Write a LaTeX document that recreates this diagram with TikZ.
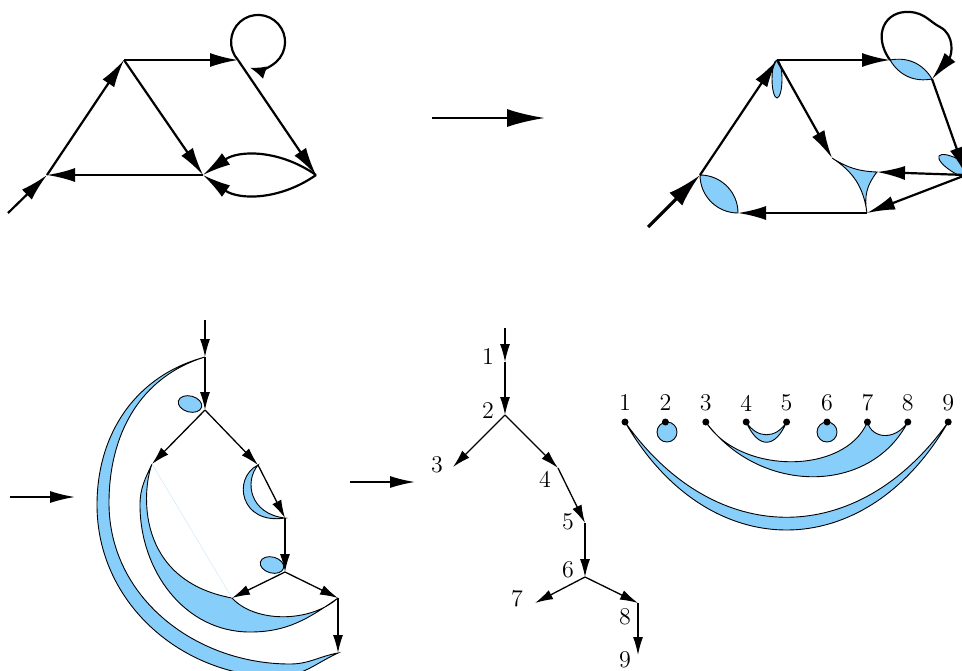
\documentclass[tikz,border=0pt]{standalone}
\usepackage{tikz}
\usetikzlibrary{arrows.meta}
\definecolor{skyblue}{RGB}{135,206,250}

\begin{document}
\begin{tikzpicture}[x=0.5pt, y=0.5pt,
    big/.style={line width=1.1pt, -{Latex[length=14pt, width=7pt]}},
    looparr/.style={line width=1.1pt, -{Latex[length=8pt, width=6.5pt]}},
    entry/.style={line width=1.6pt, -{Latex[length=17pt, width=9pt]}},
    huge/.style={line width=1.2pt, -{Latex[length=19pt, width=9pt]}},
    mid/.style={line width=0.8pt, -{Latex[length=12.5pt, width=6pt]}},
    small/.style={line width=0.65pt, -{Latex[length=9pt, width=5pt]}},
    blob/.style={fill=skyblue, draw=black, line width=0.45pt},
    num/.style={font=\large, inner sep=1pt}]
    \useasboundingbox (0,0) rectangle (962,-670);
    \clip (0,0) rectangle (962,-670);

    % Draw nodes (graph, top left)
    \coordinate (a0) at (8,-213);
    \coordinate (a) at (47,-175);
    \coordinate (b) at (124,-60);
    \coordinate (c) at (238,-60);
    \coordinate (d) at (203,-175);
    \coordinate (e) at (316,-175);

    % Draw connections
    \draw[big] (a0) -- (a);
    \draw[big] (a) -- (b);
    \draw[big] (b) -- (c);
    \draw[big] (b) -- (d);
    \draw[big] (c) -- (e);
    \draw[big] (e) to[bend right=35] (d);
    \draw[big] (e) to[bend left=35] (d);
    \draw[big] (d) -- (a);
    \draw[looparr] (c) arc[start angle=222, end angle=-108, radius=27];

    % Arrow between the two graphs
    \coordinate (m1) at (432,-118);
    \coordinate (m2) at (545,-118);
    \draw[huge] (m1) -- (m2);

    % Draw nodes (graph, top right)
    \coordinate (p0) at (648,-227);
    \coordinate (pa) at (700,-175);
    \coordinate (pa2) at (738,-213);
    \coordinate (pb) at (777,-60);
    \coordinate (pc) at (890,-60);
    \coordinate (pc2) at (932,-79);
    \coordinate (pe) at (966,-175);
    \coordinate (pd1) at (832,-158);
    \coordinate (pd2) at (877,-172);
    \coordinate (pd3) at (867,-213);

    \filldraw[blob] (pa) to[bend left=45] (pa2) to[bend left=45] (pa) -- cycle;
    \filldraw[blob] (777,-79) ellipse[x radius=5, y radius=19];
    \filldraw[blob] (pc) to[bend left=35] (pc2) to[bend left=35] (pc) -- cycle;
    \filldraw[blob, rotate around={-30:(958,-167)}] (958,-167) ellipse[x radius=22, y radius=7];
    \filldraw[blob] (pd1) to[bend right=15] (pd2) to[bend right=25] (pd3) to[bend right=25] (pd1) -- cycle;

    % Draw connections
    \draw[entry] (p0) -- (pa);
    \draw[big] (pa) -- (pb);
    \draw[big] (pb) -- (pc);
    \draw[big] (pb) -- (pd1);
    \draw[big] (pc) .. controls (872,-35) and (885,-10) .. (910,-12)
        .. controls (925,-13) and (930,-22) .. (940,-27)
        .. controls (955,-35) and (952,-55) .. (pc2);
    \draw[big] (pc2) -- (pe);
    \draw[big] (pe) -- (pd2);
    \draw[big] (pe) -- (pd3);
    \draw[big] (pd3) -- (pa2);

    % Arrows on the left and in the middle (bottom row)
    \coordinate (h1) at (10,-497);
    \coordinate (h2) at (75,-497);
    \coordinate (h3) at (350,-482);
    \coordinate (h4) at (415,-482);
    \draw[mid] (h1) -- (h2);
    \draw[mid] (h3) -- (h4);

    % Draw nodes (crescents, bottom left)
    \coordinate (q0) at (205,-320);
    \coordinate (q1) at (205,-357);
    \coordinate (q2) at (205,-410);
    \coordinate (q3) at (152,-464);
    \coordinate (q4) at (258,-465);
    \coordinate (q5) at (285,-518);
    \coordinate (q6) at (285,-572);
    \coordinate (q7) at (232,-598);
    \coordinate (q8) at (338,-598);
    \coordinate (q9) at (338,-653);

    \filldraw[blob] (q1) to[out=195,in=90] (97,-505) to[out=-90,in=180] (280,-677)
        to[out=5,in=205] (q9) to[out=190,in=0] (290,-664)
        to[out=180,in=-90] (109,-503) to[out=90,in=197] (q1) -- cycle;
    \filldraw[blob] (q3) to[out=245,in=90] (140,-505) to[out=-90,in=180] (250,-632)
        to[out=0,in=215] (q8) .. controls (310,-623) and (255,-623) .. (q7)
        .. controls (135,-580) and (142,-490) .. (q3) -- cycle;
    \draw[skyblue!50, line width=0.2pt] (q3) -- (q7);
    \filldraw[blob] (q4) .. controls (232,-478) and (240,-525) .. (q5)
        .. controls (250,-514) and (244,-482) .. (q4) -- cycle;
    \filldraw[blob, rotate around={-15:(190,-404)}] (190,-404) ellipse[x radius=12, y radius=8];
    \filldraw[blob, rotate around={-15:(272,-565)}] (272,-565) ellipse[x radius=12, y radius=8];

    % Draw connections
    \draw[small] (q0) -- (q1);
    \draw[small] (q1) -- (q2);
    \draw[small] (q2) -- (q3);
    \draw[small] (q2) -- (q4);
    \draw[small] (q4) -- (q5);
    \draw[small] (q5) -- (q6);
    \draw[small] (q6) -- (q7);
    \draw[small] (q6) -- (q8);
    \draw[small] (q8) -- (q9);

    % Draw nodes (tree)
    \coordinate (t0) at (505,-328);
    \coordinate (t1) at (505,-362);
    \coordinate (t2) at (505,-415);
    \coordinate (t3) at (453,-467);
    \coordinate (t4) at (558,-468);
    \coordinate (t5) at (585,-523);
    \coordinate (t6) at (585,-577);
    \coordinate (t7) at (535,-603);
    \coordinate (t8) at (638,-603);
    \coordinate (t9) at (638,-655);

    \node[num] (l1) at (488,-357) {1};
    \node[num] (l2) at (488,-411) {2};
    \node[num] (l3) at (437,-465) {3};
    \node[num] (l4) at (545,-479) {4};
    \node[num] (l5) at (568,-522) {5};
    \node[num] (l6) at (568,-570) {6};
    \node[num] (l7) at (517,-599) {7};
    \node[num] (l8) at (625,-617) {8};
    \node[num] (l9) at (625,-660) {9};

    % Draw connections
    \draw[small] (t0) -- (t1);
    \draw[small] (t1) -- (t2);
    \draw[small] (t2) -- (t3);
    \draw[small] (t2) -- (t4);
    \draw[small] (t4) -- (t5);
    \draw[small] (t5) -- (t6);
    \draw[small] (t6) -- (t7);
    \draw[small] (t6) -- (t8);
    \draw[small] (t8) -- (t9);

    % Draw nodes (arc diagram)
    \foreach \i in {1,...,9} {
        \coordinate (d\i) at ({625+40.4*(\i-1)},-422);
        \node[num] (k\i) at ({625+40.4*(\i-1)},-403) {\i};
    }

    % Arcs
    \filldraw[blob] (d1) .. controls (708,-566) and (865,-566) .. (d9)
        .. controls (858,-549) and (715,-549) .. (d1) -- cycle;
    \filldraw[blob] (667,-432) circle[radius=10];
    \filldraw[blob] (827,-432) circle[radius=10];
    \filldraw[blob] (d4) .. controls (758,-449) and (775,-449) .. (d5)
        .. controls (776,-439) and (757,-439) .. (d4) -- cycle;
    \filldraw[blob] (d3) .. controls (760,-495) and (870,-495) .. (d8)
        .. controls (895,-441) and (872,-439) .. (d7)
        .. controls (845,-475) and (740,-475) .. (d3) -- cycle;
    \foreach \i in {1,...,9}
        \fill (d\i) circle[radius=3.5];
\end{tikzpicture}
\end{document}
